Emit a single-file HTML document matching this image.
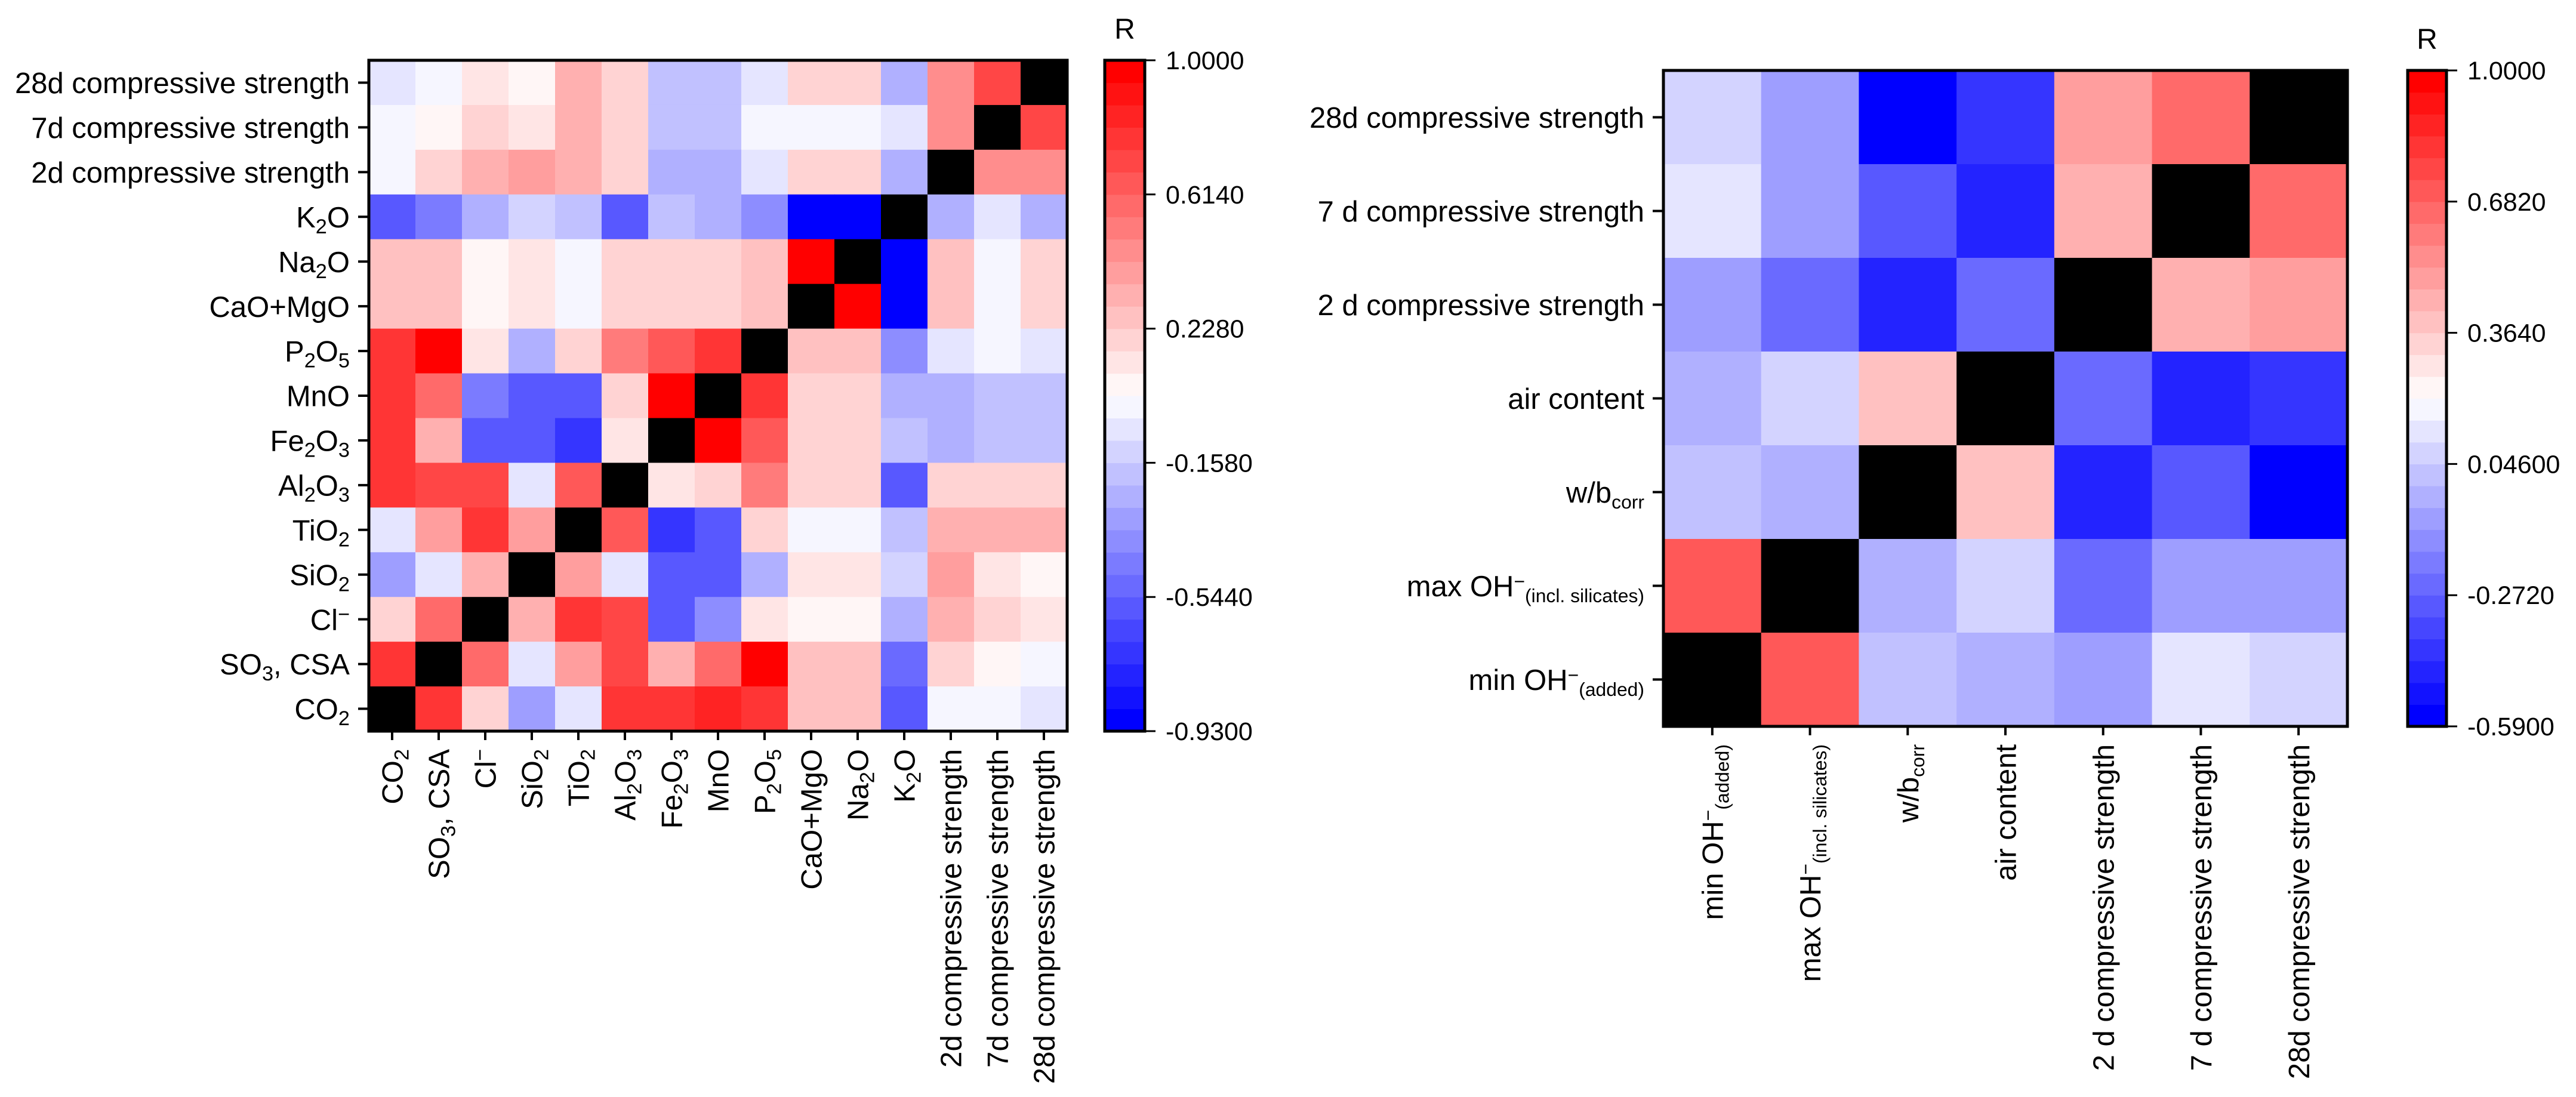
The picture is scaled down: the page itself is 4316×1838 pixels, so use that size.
<!DOCTYPE html>
<html><head><meta charset="utf-8"><style>
html,body{margin:0;padding:0;background:#fff;}
svg{display:block;font-family:"Liberation Sans",Arial,sans-serif;}
</style></head><body>
<svg id="chart" width="4316" height="1838" viewBox="0 0 4316 1838" xmlns="http://www.w3.org/2000/svg">
<rect x="0" y="0" width="4316" height="1838" fill="#fff"/>
</svg>
<script>
// ---- Left heatmap data ----
const leftCols = ["CO_{2}","SO_{3}, CSA","Cl^{−}","SiO_{2}","TiO_{2}","Al_{2}O_{3}","Fe_{2}O_{3}","MnO","P_{2}O_{5}","CaO+MgO","Na_{2}O","K_{2}O","2d compressive strength","7d compressive strength","28d compressive strength"];
const leftRows = ["28d compressive strength","7d compressive strength","2d compressive strength","K_{2}O","Na_{2}O","CaO+MgO","P_{2}O_{5}","MnO","Fe_{2}O_{3}","Al_{2}O_{3}","TiO_{2}","SiO_{2}","Cl^{−}","SO_{3}, CSA","CO_{2}"];
const leftVals = [
[-0.06,-0.02,0.15,0.08,0.30,0.20,-0.18,-0.18,-0.06,0.20,0.20,-0.25,0.47,0.68,null],
[-0.02,0.07,0.20,0.15,0.30,0.20,-0.18,-0.18,-0.02,-0.02,-0.02,-0.06,0.47,null,0.68],
[-0.02,0.20,0.30,0.38,0.30,0.20,-0.25,-0.25,-0.06,0.20,0.20,-0.25,null,0.47,0.47],
[-0.55,-0.44,-0.25,-0.12,-0.18,-0.55,-0.18,-0.25,-0.40,-0.93,-0.93,null,-0.25,-0.06,-0.25],
[0.24,0.24,0.07,0.13,-0.02,0.20,0.20,0.20,0.24,1.00,null,-0.93,0.24,-0.02,0.20],
[0.24,0.24,0.07,0.13,-0.02,0.20,0.20,0.20,0.24,null,1.00,-0.93,0.24,-0.02,0.20],
[0.78,1.00,0.13,-0.25,0.20,0.49,0.62,0.78,null,0.24,0.24,-0.40,-0.06,-0.02,-0.06],
[0.80,0.58,-0.44,-0.55,-0.55,0.20,1.00,null,0.78,0.20,0.20,-0.25,-0.25,-0.20,-0.20],
[0.78,0.31,-0.55,-0.55,-0.72,0.11,null,1.00,0.62,0.20,0.20,-0.18,-0.25,-0.20,-0.20],
[0.78,0.68,0.68,-0.06,0.62,null,0.11,0.20,0.49,0.20,0.20,-0.55,0.20,0.20,0.20],
[-0.06,0.38,0.80,0.38,null,0.62,-0.72,-0.55,0.20,-0.02,-0.02,-0.18,0.31,0.31,0.31],
[-0.33,-0.06,0.31,null,0.38,-0.06,-0.55,-0.55,-0.25,0.13,0.13,-0.12,0.38,0.13,0.07],
[0.18,0.55,null,0.31,0.80,0.68,-0.55,-0.40,0.11,0.07,0.07,-0.25,0.31,0.20,0.13],
[0.80,null,0.58,-0.06,0.38,0.68,0.31,0.58,1.00,0.24,0.24,-0.48,0.18,0.07,-0.02],
[null,0.80,0.18,-0.33,-0.06,0.78,0.78,0.82,0.78,0.24,0.24,-0.55,-0.02,-0.02,-0.06]
];
const leftTicks = ["1.0000","0.6140","0.2280","-0.1580","-0.5440","-0.9300"];
const leftRange = [-0.93, 1.0];

// ---- Right heatmap data ----
const rightCols = ["min OH^{−}_{(added)}","max OH^{−}_{(incl. silicates)}","w/b_{corr}","air content","2 d compressive strength","7 d compressive strength","28d compressive strength"];
const rightRows = ["28d compressive strength","7 d compressive strength","2 d compressive strength","air content","w/b_{corr}","max OH^{−}_{(incl. silicates)}","min OH^{−}_{(added)}"];
const rightVals = [
[0.08,-0.11,-0.59,-0.40,0.52,0.68,null],
[0.13,-0.11,-0.31,-0.45,0.44,null,0.68],
[-0.11,-0.22,-0.45,-0.22,null,0.44,0.52],
[-0.03,0.08,0.38,null,-0.22,-0.45,-0.40],
[0.03,-0.03,null,0.38,-0.45,-0.31,-0.59],
[0.72,null,-0.03,0.08,-0.22,-0.11,-0.11],
[null,0.72,0.03,-0.03,-0.11,0.13,0.08]
];
const rightTicks = ["1.0000","0.6820","0.3640","0.04600","-0.2720","-0.5900"];
const rightRange = [-0.59, 1.0];

const NS = "http://www.w3.org/2000/svg";
const svg = document.getElementById("chart");
function mk(tag, attrs, parent){
  const e = document.createElementNS(NS, tag);
  for (const k in attrs) e.setAttribute(k, attrs[k]);
  (parent||svg).appendChild(e);
  return e;
}
const NB = 30;
function bandColor(k){
  const s = k/(NB-1);
  if (s < 0.5){ const t = Math.round(255*s/0.5); return `rgb(${t},${t},255)`; }
  const t = Math.round(255*(1-s)/0.5); return `rgb(255,${t},${t})`;
}
function colorFor(v, range){
  let k = Math.floor((v-range[0])/(range[1]-range[0])*NB);
  k = Math.max(0, Math.min(NB-1, k));
  return bandColor(k);
}
function addRich(textEl, str, subSize){
  const re = /(_|\^)\{([^}]*)\}/g;
  let last = 0, m;
  while ((m = re.exec(str)) !== null){
    if (m.index > last){ const t = mk("tspan", {}, textEl); t.textContent = str.slice(last, m.index); }
    const t = mk("tspan", {"baseline-shift": m[1]==="_" ? "-30%" : "45%", "font-size": subSize}, textEl);
    t.textContent = m[2];
    last = re.lastIndex;
  }
  if (last < str.length){ const t = mk("tspan", {}, textEl); t.textContent = str.slice(last); }
}

function heatmap(cfg){
  const {x0,y0,x1,y1,cols,rows,vals,range,ticks,cb,prefix,yFont,xFont,subFont} = cfg;
  const g = mk("g", {});
  
  
  const cw = (x1-x0)/cols.length, ch = (y1-y0)/rows.length;
  const xc = i => x0 + (i+0.5)*cw;
  const yc = j => y0 + (j+0.5)*ch;
  for (let j=0;j<rows.length;j++){
    for (let i=0;i<cols.length;i++){
      const v = vals[j][i];
      const r = mk("rect", {x:(x0+i*cw).toFixed(2), y:(y0+j*ch).toFixed(2), width:(cw+0.6).toFixed(2), height:(ch+0.6).toFixed(2), fill: v===null ? "#000" : colorFor(v, range)}, g);
      
      
    }
  }
  const fr = mk("rect", {x:x0, y:y0, width:x1-x0, height:y1-y0, fill:"none", stroke:"#000", "stroke-width":5}, g);
  
  
  for (let j=0;j<rows.length;j++){
    mk("line", {x1:x0-18, x2:x0, y1:yc(j), y2:yc(j), stroke:"#000", "stroke-width":4}, g);
    const t = mk("text", {x:x0-32, y:yc(j)+yFont*0.36, "text-anchor":"end", "font-size":yFont, fill:"#000"}, g);
    
    
    addRich(t, rows[j], subFont);
  }
  for (let i=0;i<cols.length;i++){
    mk("line", {x1:xc(i), x2:xc(i), y1:y1, y2:y1+15, stroke:"#000", "stroke-width":4}, g);
    const t = mk("text", {x:0, y:0, "text-anchor":"end", "font-size":xFont, fill:"#000",
      transform:`translate(${(xc(i)+xFont*0.36).toFixed(1)},${y1+30}) rotate(-90)`}, g);
    
    
    addRich(t, cols[i], subFont);
  }
  const cg = mk("g", {}, svg);
  
  
  const bh = (cb.y1-cb.y0)/NB;
  for (let k=0;k<NB;k++){
    mk("rect", {x:cb.x0, y:(cb.y1-(k+1)*bh).toFixed(2), width:cb.x1-cb.x0, height:(bh+0.6).toFixed(2), fill:bandColor(k)}, cg);
  }
  mk("rect", {x:cb.x0, y:cb.y0, width:cb.x1-cb.x0, height:cb.y1-cb.y0, fill:"none", stroke:"#000", "stroke-width":5}, cg);
  for (let k=0;k<ticks.length;k++){
    const yy = cb.y0 + k*(cb.y1-cb.y0)/(ticks.length-1);
    mk("line", {x1:cb.x1, x2:cb.x1+18, y1:yy, y2:yy, stroke:"#000", "stroke-width":3}, cg);
    const t = mk("text", {x:cb.x1+35, y:yy+15, "font-size":43, fill:"#000"}, cg);
    
    
    t.textContent = ticks[k];
  }
  const R = mk("text", {x:(cb.x0+cb.x1)/2, y:cb.y0-36, "text-anchor":"middle", "font-size":48, fill:"#000"}, cg);
  
  
  R.textContent = "R";
}

heatmap({x0:618,y0:101,x1:1788,y1:1225,cols:leftCols,rows:leftRows,vals:leftVals,range:leftRange,ticks:leftTicks,
  cb:{x0:1851,x1:1918,y0:101,y1:1225},prefix:"left",yFont:49,xFont:49,subFont:"70%"});
heatmap({x0:2787,y0:118,x1:3933,y1:1217,cols:rightCols,rows:rightRows,vals:rightVals,range:rightRange,ticks:rightTicks,
  cb:{x0:4034,x1:4099,y0:118,y1:1217},prefix:"right",yFont:49,xFont:49,subFont:"65%"});
</script>
</body></html>
